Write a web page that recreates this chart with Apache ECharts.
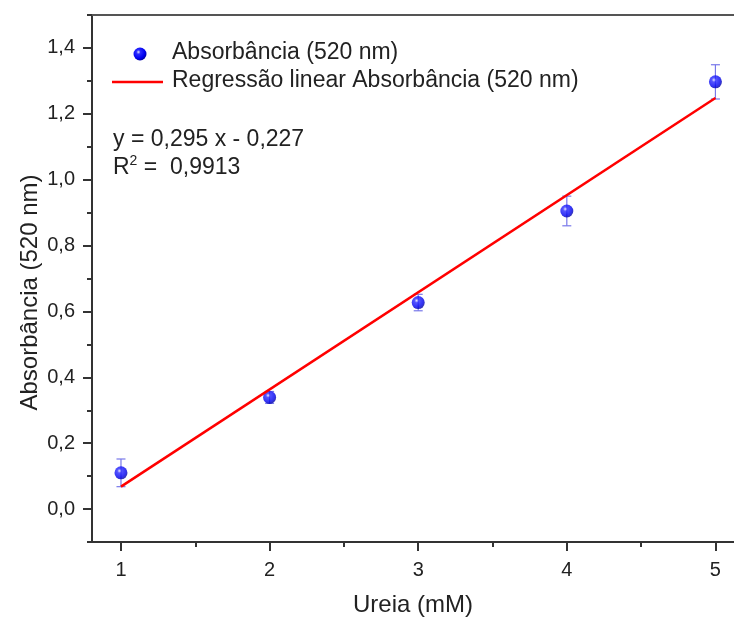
<!DOCTYPE html>
<html><head><meta charset="utf-8">
<script src="https://cdn.jsdelivr.net/npm/echarts@6/dist/echarts.min.js"></script>
<style>html,body{margin:0;padding:0;background:#fff}#c{width:734px;height:624px}</style>
</head><body><div id="c"></div>
<script>
const ureia = [1, 2, 3, 4, 5];
const absorb = [0.110, 0.339, 0.627, 0.905, 1.297];
const errs = [0.042, 0.018, 0.025, 0.045, 0.052];
const regX = [1, 5];
const regY = [0.068, 1.248];
const xMajor = [1, 2, 3, 4, 5];
const xMinor = [1.5, 2.5, 3.5, 4.5];
const yMajor = [0, 0.2, 0.4, 0.6, 0.8, 1.0, 1.2, 1.4];
const yMinor = [-0.1, 0.1, 0.3, 0.5, 0.7, 0.9, 1.1, 1.3, 1.5];
const legendNames = ['Absorbância (520 nm)', 'Regressão linear Absorbância (520 nm)'];
const eqText = 'y = 0,295 x - 0,227';
const r2Value = '0,9913';

const FONT = '"Liberation Sans", Arial, sans-serif';
const AX = '#333';
const TXT = '#222';
const sphere = {
  type: 'radial', x: 0.38, y: 0.35, r: 0.65,
  colorStops: [{offset: 0, color: '#e0e0ff'}, {offset: 0.25, color: '#2a2aff'}, {offset: 0.75, color: '#0000f0'}, {offset: 1, color: '#0000a8'}]
};
const fmt = v => (Math.round(v * 10) / 10).toFixed(1).replace('.', ',');

const chart = echarts.init(document.getElementById('c'), null, {renderer: 'canvas'});
chart.setOption({
  animation: false,
  backgroundColor: '#fff',
  grid: {left: 92, right: 0, top: 15, bottom: 82, containLabel: false},
  xAxis: [
    {type: 'value', min: 0.805, max: 5.125, position: 'bottom',
     axisLine: {show: true, onZero: false, lineStyle: {color: AX, width: 2}},
     axisTick: {show: true, inside: false, length: 9, lineStyle: {color: AX, width: 2}, customValues: xMajor},
     axisLabel: {show: true, margin: 18, color: TXT, fontSize: 20, fontFamily: FONT, customValues: xMajor, formatter: v => String(Math.round(v))},
     splitLine: {show: false},
     name: 'Ureia (mM)', nameLocation: 'middle', nameGap: 51,
     nameTextStyle: {color: TXT, fontSize: 24, fontFamily: FONT}},
    {type: 'value', min: 0.805, max: 5.125, position: 'bottom',
     axisLine: {show: false, onZero: false},
     axisTick: {show: true, length: 5, lineStyle: {color: AX, width: 2}, customValues: xMinor},
     axisLabel: {show: false}, splitLine: {show: false}},
    {type: 'value', min: 0.805, max: 5.125, position: 'top',
     axisLine: {show: true, onZero: false, lineStyle: {color: '#555', width: 2}},
     axisTick: {show: false}, axisLabel: {show: false}, splitLine: {show: false}}
  ],
  yAxis: [
    {type: 'value', min: -0.1, max: 1.5, position: 'left',
     axisLine: {show: true, onZero: false, lineStyle: {color: AX, width: 2}},
     axisTick: {show: true, length: 9, lineStyle: {color: AX, width: 2}, customValues: yMajor},
     axisLabel: {show: true, margin: 17, color: TXT, fontSize: 20, fontFamily: FONT, customValues: yMajor, formatter: fmt},
     splitLine: {show: false},
     name: 'Absorbância (520 nm)', nameLocation: 'middle', nameGap: 50, nameRotate: 90,
     nameMoveOverlap: false,
     nameTextStyle: {color: TXT, fontSize: 24, fontFamily: FONT, padding: [0, 28, 0, 0]}},
    {type: 'value', min: -0.1, max: 1.5, position: 'left',
     axisLine: {show: false, onZero: false},
     axisTick: {show: true, length: 5, lineStyle: {color: AX, width: 2}, customValues: yMinor},
     axisLabel: {show: false}, splitLine: {show: false}}
  ],
  graphic: [
    {type: 'circle', shape: {cx: 140, cy: 54, r: 6.5}, style: {fill: sphere}},
    {type: 'text', left: 172, top: 41, style: {text: legendNames[0], fill: TXT, font: '23px ' + FONT}},
    {type: 'line', shape: {x1: 112, y1: 82, x2: 163, y2: 82}, style: {stroke: '#ff0000', lineWidth: 2.5}},
    {type: 'text', left: 172, top: 69, style: {text: legendNames[1], fill: TXT, font: '23px ' + FONT}},
    {type: 'text', left: 113, top: 128, style: {text: eqText, fill: TXT, font: '23px ' + FONT}},
    {type: 'text', left: 113, top: 154, style: {
      text: 'R{sup|2} =  ' + r2Value, fill: TXT, font: '23px ' + FONT,
      rich: {sup: {fontSize: 14, fontFamily: FONT, verticalAlign: 'top', padding: [0, 0, 14, 0], fill: TXT}}}}
  ],
  series: [
    {type: 'custom', name: 'err', xAxisIndex: 0, yAxisIndex: 0, z: 2,
     data: ureia.map((x, i) => [x, absorb[i] - errs[i], absorb[i] + errs[i]]),
     renderItem: function (params, api) {
       const lo = api.coord([api.value(0), api.value(1)]);
       const hi = api.coord([api.value(0), api.value(2)]);
       const w = 4.5;
       const st = {stroke: '#7878ea', lineWidth: 1.2};
       return {type: 'group', children: [
         {type: 'line', shape: {x1: lo[0], y1: lo[1], x2: hi[0], y2: hi[1]}, style: st},
         {type: 'line', shape: {x1: lo[0] - w, y1: lo[1], x2: lo[0] + w, y2: lo[1]}, style: st},
         {type: 'line', shape: {x1: hi[0] - w, y1: hi[1], x2: hi[0] + w, y2: hi[1]}, style: st}
       ]};
     }},
    {type: 'scatter', name: legendNames[0], xAxisIndex: 0, yAxisIndex: 0, z: 3,
     symbol: 'circle', symbolSize: 13,
     itemStyle: {color: sphere},
     data: ureia.map((x, i) => [x, absorb[i]])},
    {type: 'line', name: legendNames[1], xAxisIndex: 0, yAxisIndex: 0, z: 4,
     showSymbol: false, symbol: 'none',
     lineStyle: {color: '#ff0000', width: 2.5},
     data: regX.map((x, i) => [x, regY[i]])}
  ]
});
</script>
</body></html>
